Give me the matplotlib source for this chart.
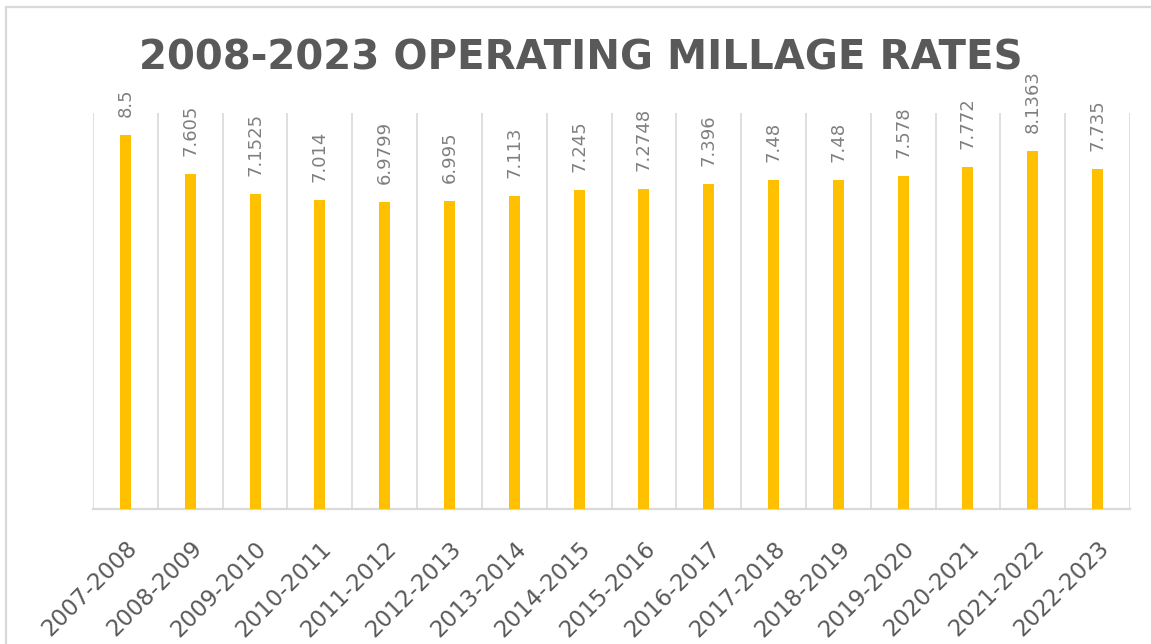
import matplotlib
matplotlib.use("Agg")
import matplotlib.pyplot as plt
from matplotlib.patches import Rectangle

categories = ["2007-2008", "2008-2009", "2009-2010", "2010-2011", "2011-2012",
              "2012-2013", "2013-2014", "2014-2015", "2015-2016", "2016-2017",
              "2017-2018", "2018-2019", "2019-2020", "2020-2021", "2021-2022",
              "2022-2023"]
values = [8.5, 7.605, 7.1525, 7.014, 6.9799, 6.995, 7.113, 7.245, 7.2748,
          7.396, 7.48, 7.48, 7.578, 7.772, 8.1363, 7.735]
value_labels = ["8.5", "7.605", "7.1525", "7.014", "6.9799", "6.995", "7.113",
                "7.245", "7.2748", "7.396", "7.48", "7.48", "7.578", "7.772",
                "8.1363", "7.735"]
title = "2008-2023 OPERATING MILLAGE RATES"

W, H = 1151, 644
fig = plt.figure(figsize=(W / 100, H / 100), dpi=100)
fig.patch.set_facecolor("white")

# outer chart border
fig.add_artist(Rectangle((6 / W, -0.1), 1.2, (H - 7) / H + 0.1, transform=fig.transFigure,
                         fill=False, edgecolor="#D9D9D9", linewidth=1.6))

ax = fig.add_axes([93 / W, (H - 509) / H, (1130 - 93) / W, (509 - 113) / H])
x = list(range(len(categories)))
ax.bar(x, values, width=0.17, color="#FFC000", zorder=3)
ax.set_xlim(-0.5, len(categories) - 0.5)
ax.set_ylim(0, 9)

for i in range(len(categories) + 1):
    ax.axvline(i - 0.5, color="#D9D9D9", linewidth=1.2, zorder=1)

for s in ["top", "left", "right"]:
    ax.spines[s].set_visible(False)
ax.spines["bottom"].set_color("#D9D9D9")
ax.spines["bottom"].set_linewidth(1.6)
ax.set_yticks([])
ax.set_xticks(x)
ax.set_xticklabels(categories, rotation=45, ha="right", va="top",
                   rotation_mode="anchor", fontsize=16.5, color="#595959")
ax.tick_params(axis="x", length=0, pad=20)

for xi, v, lab in zip(x, values, value_labels):
    ax.annotate(lab, (xi, v), xytext=(0, 18), textcoords="offset pixels",
                rotation=90, ha="center", va="bottom", fontsize=13,
                color="#7F7F7F", family="DejaVu Sans")

fig.text(581 / W, 1 - 58 / H, title, ha="center", va="center", fontsize=29,
         fontweight="bold", color="#595959", family="DejaVu Sans")

fig.savefig("out.png", dpi=100, facecolor="white")
